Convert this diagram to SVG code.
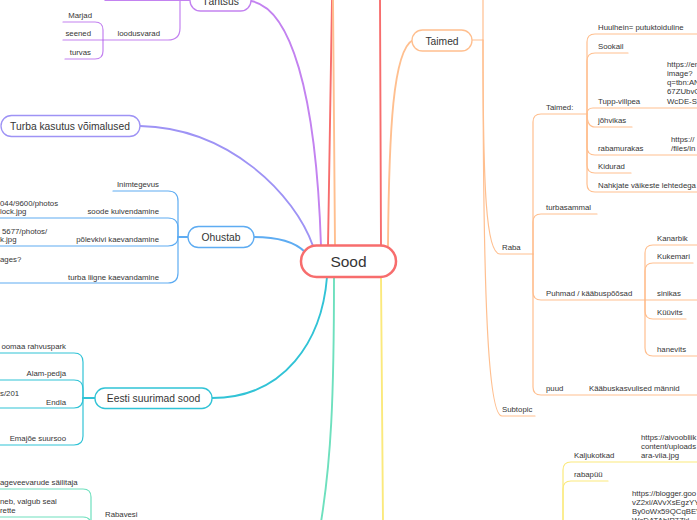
<svg xmlns="http://www.w3.org/2000/svg" width="697" height="520" viewBox="0 0 697 520">
<style>
text{font-family:"Liberation Sans",Arial,sans-serif;fill:#353535}
.s{font-size:7.8px}
.n{font-size:10.3px;text-anchor:middle}
.e{text-anchor:end}
.c{fill:none;stroke-linecap:round}
.w2{stroke-width:1.9}
.w1{stroke-width:1.2}
.red{stroke:#f76d6d}
.pur{stroke:#c382f0}
.lav{stroke:#9e93f5}
.blu{stroke:#5eacf2}
.cya{stroke:#31c3d6}
.min{stroke:#6ee0be}
.yel{stroke:#fbe97c}
.ora{stroke:#ffbf8f}
.box{fill:#fff;stroke-width:1.3}
</style>
<rect width="697" height="520" fill="#fff"/>
<g id="connectors">
  <!-- main branches -->
  <path class="c w2 red" d="M328,246 L332,0"/>
  <path class="c w2 red" d="M381,246 L380,0"/>
  <path class="c w2 ora" d="M335,246 L333,0"/>
  <path class="c w2 pur" d="M321,246 C316,90 290,8 251,1"/>
  <path class="c w2 lav" d="M313,246 C295,195 230,128 140,126"/>
  <path class="c w2 blu" d="M305,252 C295,242 280,237 254,237"/>
  <path class="c w2 cya" d="M327,277 C322,340 285,398 212,398"/>
  <path class="c w2 min" d="M334,277 C334,400 331,460 321,522"/>
  <path class="c w2 yel" d="M381,277 L383,522"/>
  <path class="c w2 ora" d="M388,246 C389,130 393,50 413,40"/>
  <!-- Taimed -->
  <path class="c w1 ora" d="M472,40 H483 M483,0 V40"/>
  <path class="c w1 ora" d="M483,40 C483,190 486,254 500,254 H533"/>
  <path class="c w1 ora" d="M483,40 C483,300 488,416 502,416 H535"/>
  <!-- Raba children -->
  <path class="c w1 ora" d="M533,254 V122 Q533,114 541,114 H587"/>
  <path class="c w1 ora" d="M533,254 V222 Q533,214 541,214 H597"/>
  <path class="c w1 ora" d="M533,254 V292 Q533,300 541,300 H645"/>
  <path class="c w1 ora" d="M533,254 V387 Q533,395 541,395 H697"/>
  <!-- Taimed: children -->
  <path class="c w1 ora" d="M587,114 V42 Q587,34 595,34 H697"/>
  <path class="c w1 ora" d="M587,114 V61 Q587,53 595,53 H628"/>
  <path class="c w1 ora" d="M587,114 Q587,108 593,108 H697"/>
  <path class="c w1 ora" d="M587,114 Q587,127 595,127 H632"/>
  <path class="c w1 ora" d="M587,114 V147 Q587,155 595,155 H697"/>
  <path class="c w1 ora" d="M587,114 V165 Q587,173 595,173 H631"/>
  <path class="c w1 ora" d="M587,114 V184 Q587,192 595,192 H697"/>
  <!-- Puhmad children -->
  <path class="c w1 ora" d="M645,300 V253 Q645,245 653,245 H697"/>
  <path class="c w1 ora" d="M645,300 V271 Q645,263 653,263 H693"/>
  <path class="c w1 ora" d="M645,300 H697"/>
  <path class="c w1 ora" d="M645,300 V311 Q645,319 653,319 H686"/>
  <path class="c w1 ora" d="M645,300 V348 Q645,356 653,356 H697"/>
  <!-- yellow bottom children -->
  <path class="c w1 yel" d="M563,540 V470 Q563,462 571,462 H697"/>
  <path class="c w1 yel" d="M563,540 V489 Q563,481 571,481 H608"/>
  <!-- Tahtsus -->
  <path class="c w1 pur" d="M190,0.5 H105"/>
  <path class="c w1 pur" d="M180,0.5 V28 Q180,40 168,40 H103"/>
  <path class="c w1 pur" d="M103,40 V30 Q103,22 95,22 H63"/>
  <path class="c w1 pur" d="M103,40 H63"/>
  <path class="c w1 pur" d="M103,40 V51 Q103,59 95,59 H65"/>
  <!-- Ohustab -->
  <path class="c w2 blu" d="M188,237 H178"/>
  <path class="c w1 blu" d="M178,237 V201 Q178,191 168,191 H113"/>
  <path class="c w1 blu" d="M178,237 V228 Q178,218 168,218 H0"/>
  <path class="c w1 blu" d="M178,237 Q178,246 168,246 H0"/>
  <path class="c w1 blu" d="M178,237 V273 Q178,283 168,283 H0"/>
  <!-- Eesti -->
  <path class="c w2 cya" d="M95,398 H83"/>
  <path class="c w1 cya" d="M83,398 V362 Q83,353 74,353 H0"/>
  <path class="c w1 cya" d="M83,398 V389 Q83,380 74,380 H0"/>
  <path class="c w1 cya" d="M83,398 Q83,408 74,408 H0"/>
  <path class="c w1 cya" d="M83,398 V436 Q83,445 74,445 H0"/>
  <!-- Rabavesi -->
  <path class="c w1 min" d="M91,530 V497 Q91,489 83,489 H0"/>
  <path class="c w1 min" d="M91,530 V525 Q91,517 83,517 H0"/>
</g>
<g id="node-sood">
  <rect x="301" y="245.5" width="95" height="31.5" rx="15.5" fill="#fff" stroke="#f76d6d" stroke-width="2.5"/>
  <text x="348.5" y="266.5" font-size="15.5" text-anchor="middle">Sood</text>
</g>
<g id="node-tahtsus">
  <rect class="box pur" x="190" y="-10" width="61" height="21" rx="10.5"/>
  <text class="n" x="220.5" y="5">Tähtsus</text>
</g>
<g id="node-loodusvarad">
  <text class="s e" x="160" y="36">loodusvarad</text>
  <text class="s e" x="92" y="18">Marjad</text>
  <text class="s e" x="91" y="36">seened</text>
  <text class="s e" x="91" y="55">turvas</text>
</g>
<g id="node-turba">
  <rect class="box lav" x="1" y="115.5" width="139" height="21" rx="10.5"/>
  <text class="n" x="70" y="129.8">Turba kasutus võimalused</text>
</g>
<g id="node-ohustab">
  <rect class="box blu" x="188" y="226.5" width="66" height="21" rx="10.5"/>
  <text class="n" x="221" y="241">Ohustab</text>
  <text class="s e" x="159" y="186.5">Inimtegevus</text>
  <text class="s e" x="159" y="214">soode kuivendamine</text>
  <text class="s" x="0" y="206">044/9600/photos</text>
  <text class="s" x="0" y="214">lock.jpg</text>
  <text class="s e" x="159" y="242">põlevkivi kaevandamine</text>
  <text class="s" x="2" y="234">5677/photos/</text>
  <text class="s" x="0" y="242">k.jpg</text>
  <text class="s" x="0" y="262">ages?</text>
  <text class="s e" x="159" y="279.5">turba liigne kaevandamine</text>
</g>
<g id="node-eesti">
  <rect class="box cya" x="95" y="388" width="117" height="20.5" rx="10"/>
  <text class="n" x="153.5" y="402">Eesti suurimad sood</text>
  <text class="s e" x="66" y="349">oomaa rahvuspark</text>
  <text class="s e" x="66" y="376">Alam-pedja</text>
  <text class="s" x="0" y="396">s/201</text>
  <text class="s e" x="66" y="404.5">Endla</text>
  <text class="s e" x="66" y="441">Emajõe suursoo</text>
</g>
<g id="node-rabavesi">
  <text class="s" x="105" y="517">Rabavesi</text>
  <text class="s" x="0" y="485">ageveevarude säilitaja</text>
  <text class="s" x="0" y="504">neb, valgub seal</text>
  <text class="s" x="0" y="513">rette</text>
</g>
<g id="node-taimed">
  <rect class="box ora" x="412" y="30" width="60" height="21" rx="10.5"/>
  <text class="n" x="442" y="44.5">Taimed</text>
</g>
<g id="node-raba">
  <text class="s" x="502" y="250">Raba</text>
  <text class="s" x="546" y="110">Taimed:</text>
  <text class="s" x="546" y="210">turbasammal</text>
  <text class="s" x="546" y="296">Puhmad / kääbuspõõsad</text>
  <text class="s" x="546" y="391">puud</text>
  <text class="s" x="589" y="391">Kääbuskasvulised männid</text>
</g>
<g id="node-taimed-list">
  <text class="s" x="598" y="30">Huulhein= putuktoiduline</text>
  <text class="s" x="598" y="49">Sookail</text>
  <text class="s" x="667" y="66.5">https://en</text>
  <text class="s" x="667" y="75.7">image?</text>
  <text class="s" x="667" y="84.9">q=tbn:AN</text>
  <text class="s" x="667" y="94.1">67ZUbvC</text>
  <text class="s" x="667" y="103.5">WcDE-Sx</text>
  <text class="s" x="598" y="104">Tupp-villpea</text>
  <text class="s" x="598" y="123">jõhvikas</text>
  <text class="s" x="671" y="141.5">https://</text>
  <text class="s" x="671" y="151">/files/in</text>
  <text class="s" x="598" y="151">rabamurakas</text>
  <text class="s" x="598" y="169">Kidurad</text>
  <text class="s" x="598" y="188">Nahkjate väikeste lehtedega</text>
</g>
<g id="node-puhmad">
  <text class="s" x="657" y="241">Kanarbik</text>
  <text class="s" x="657" y="259">Kukemari</text>
  <text class="s" x="657" y="296">sinikas</text>
  <text class="s" x="657" y="315">Küüvits</text>
  <text class="s" x="657" y="352">hanevits</text>
</g>
<g id="node-subtopic">
  <text class="s" x="502" y="412">Subtopic</text>
</g>
<g id="node-yellow">
  <text class="s" x="641" y="440">https://aivoobliik</text>
  <text class="s" x="641" y="449">content/uploads</text>
  <text class="s" x="641" y="458">ara-viia.jpg</text>
  <text class="s" x="574" y="458">Kaljukotkad</text>
  <text class="s" x="574" y="477">rabapüü</text>
  <text class="s" x="632" y="496">https://blogger.goo</text>
  <text class="s" x="632" y="505">vZ2xl/AVvXsEgzYY</text>
  <text class="s" x="632" y="514">By0oWx59QCqBEV</text>
  <text class="s" x="632" y="523">WcDATAbIP7Zkl</text>
</g>
</svg>
